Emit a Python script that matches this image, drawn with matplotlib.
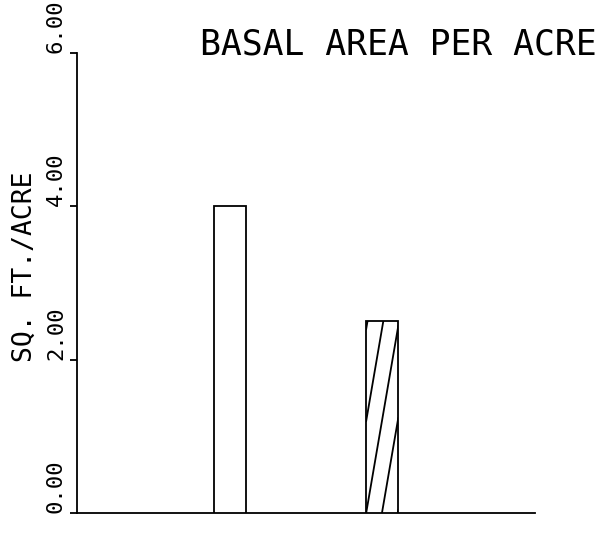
import matplotlib
matplotlib.use("Agg")
import matplotlib.pyplot as plt
import numpy as np

# bar data
positions = [1, 2]
values = [4.0, 2.5]
hatched = [False, True]
yticks = [0, 2, 4, 6]
ytick_labels = ["0.00", "2.00", "4.00", "6.00"]

FONT = "DejaVu Sans Mono"
LW = 1.3

fig = plt.figure(figsize=(6.14, 5.33), dpi=100)
ax = fig.add_axes([0.1254, 0.0375, 0.7456, 0.863])

bars = ax.bar(positions, values, width=0.21, facecolor="white",
              edgecolor="black", linewidth=LW, zorder=3)

# plotter style sparse steep hatching, clipped to the bar
for bar, h in zip(bars, hatched):
    if not h:
        continue
    x0, w = bar.get_x(), bar.get_width()
    slope = 11.6
    for k in range(-3, 4):
        xs = np.array([x0, x0 + w])
        ys = slope * (xs - x0) + 1.2 * k
        ln, = ax.plot(xs, ys, color="black", lw=LW, zorder=4)
        ln.set_clip_path(bar)

ax.set_xlim(0, 3)
ax.set_ylim(0, 6)
ax.set_xticks([])
ax.set_yticks(yticks)
ax.set_yticklabels(ytick_labels, rotation=90, va="bottom", family=FONT, fontsize=16)
ax.tick_params(axis="y", direction="out", length=5, width=LW, pad=3)

for s in ["top", "right"]:
    ax.spines[s].set_visible(False)
for s in ["left", "bottom"]:
    ax.spines[s].set_linewidth(LW)

fig.text(0.972, 0.897, "BASAL AREA PER ACRE", ha="right", va="baseline",
         family=FONT, fontsize=25)
fig.text(0.04, 0.499, "SQ. FT./ACRE", rotation=90, ha="center", va="center",
         family=FONT, fontsize=19)

fig.savefig("out.png", dpi=100)
